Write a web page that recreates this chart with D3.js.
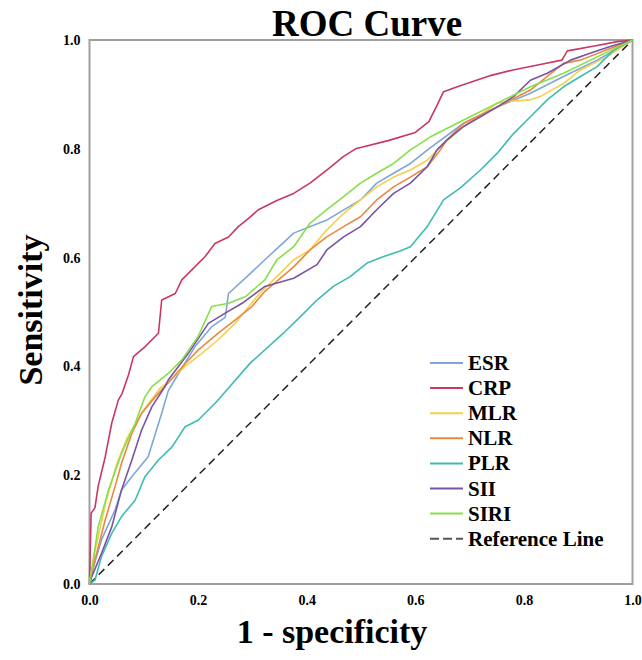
<!DOCTYPE html>
<html>
<head>
<meta charset="utf-8">
<script src="https://cdn.jsdelivr.net/npm/d3@7"></script>
<style>
  body { margin: 0; background: #fff; }
  text { font-family: "Liberation Serif", "Times New Roman", serif; }
</style>
</head>
<body>
<svg width="642" height="660"></svg>
<script>
// ROC points, [1 - specificity, sensitivity]
var esr = [[0,0],[0.004,0.02],[0.022,0.081],[0.047,0.136],[0.059,0.173],[0.08,0.2],[0.108,0.234],[0.133,0.314],[0.145,0.355],[0.16,0.38],[0.194,0.436],[0.225,0.473],[0.25,0.49],[0.256,0.534],[0.29,0.565],[0.323,0.596],[0.376,0.645],[0.437,0.669],[0.499,0.706],[0.529,0.737],[0.56,0.755],[0.591,0.773],[0.628,0.802],[0.689,0.847],[0.751,0.877],[0.812,0.902],[0.873,0.933],[0.935,0.963],[1,1]];
var crp = [[0,0],[0.003,0.13],[0.01,0.14],[0.016,0.18],[0.029,0.234],[0.041,0.296],[0.053,0.338],[0.06,0.35],[0.072,0.385],[0.081,0.418],[0.102,0.436],[0.115,0.449],[0.127,0.461],[0.133,0.522],[0.158,0.534],[0.17,0.559],[0.188,0.577],[0.213,0.602],[0.231,0.626],[0.256,0.638],[0.274,0.657],[0.293,0.672],[0.311,0.688],[0.345,0.705],[0.376,0.718],[0.406,0.737],[0.437,0.761],[0.468,0.786],[0.49,0.8],[0.55,0.815],[0.6,0.83],[0.625,0.85],[0.64,0.88],[0.652,0.905],[0.68,0.915],[0.71,0.925],[0.74,0.935],[0.78,0.945],[0.83,0.955],[0.87,0.963],[0.88,0.98],[0.935,0.99],[0.972,0.997],[1,1]];
var mlr = [[0,0],[0.01,0.06],[0.03,0.15],[0.05,0.22],[0.07,0.27],[0.1,0.32],[0.13,0.36],[0.15,0.375],[0.176,0.4],[0.207,0.424],[0.237,0.449],[0.268,0.479],[0.314,0.535],[0.351,0.571],[0.376,0.596],[0.406,0.614],[0.437,0.651],[0.468,0.681],[0.499,0.706],[0.529,0.73],[0.56,0.748],[0.591,0.761],[0.622,0.779],[0.646,0.804],[0.689,0.841],[0.751,0.884],[0.78,0.888],[0.812,0.89],[0.83,0.896],[0.873,0.92],[0.904,0.945],[0.953,0.969],[1,1]];
var nlr = [[0,0],[0.01,0.044],[0.029,0.118],[0.047,0.179],[0.059,0.222],[0.078,0.277],[0.096,0.314],[0.121,0.344],[0.145,0.37],[0.176,0.405],[0.2,0.43],[0.237,0.461],[0.268,0.485],[0.299,0.51],[0.323,0.538],[0.376,0.583],[0.406,0.614],[0.437,0.638],[0.468,0.657],[0.499,0.675],[0.529,0.706],[0.56,0.73],[0.591,0.748],[0.622,0.767],[0.646,0.798],[0.658,0.816],[0.689,0.847],[0.751,0.877],[0.812,0.908],[0.843,0.933],[0.873,0.957],[0.904,0.963],[0.953,0.982],[1,1]];
var plr = [[0,0],[0.01,0.007],[0.022,0.05],[0.041,0.093],[0.059,0.124],[0.084,0.154],[0.102,0.197],[0.127,0.228],[0.152,0.252],[0.176,0.289],[0.2,0.301],[0.234,0.335],[0.296,0.406],[0.357,0.461],[0.388,0.491],[0.419,0.522],[0.449,0.547],[0.48,0.565],[0.511,0.59],[0.542,0.602],[0.572,0.612],[0.591,0.62],[0.622,0.657],[0.652,0.706],[0.683,0.728],[0.72,0.761],[0.751,0.792],[0.781,0.828],[0.812,0.859],[0.843,0.89],[0.873,0.914],[0.904,0.933],[0.935,0.951],[0.966,0.982],[1,1]];
var sii = [[0,0],[0.004,0.013],[0.022,0.056],[0.041,0.105],[0.059,0.173],[0.078,0.228],[0.096,0.283],[0.115,0.326],[0.139,0.363],[0.145,0.375],[0.182,0.424],[0.219,0.479],[0.25,0.498],[0.281,0.516],[0.323,0.547],[0.376,0.562],[0.419,0.587],[0.437,0.614],[0.468,0.638],[0.499,0.657],[0.529,0.688],[0.56,0.718],[0.591,0.737],[0.622,0.767],[0.64,0.798],[0.658,0.816],[0.689,0.841],[0.72,0.859],[0.751,0.877],[0.781,0.896],[0.812,0.926],[0.843,0.939],[0.886,0.963],[0.923,0.976],[0.959,0.988],[1,1]];
var siri = [[0,0],[0.004,0.026],[0.016,0.105],[0.035,0.173],[0.059,0.24],[0.084,0.295],[0.102,0.344],[0.115,0.363],[0.145,0.387],[0.17,0.412],[0.2,0.455],[0.225,0.51],[0.256,0.516],[0.287,0.528],[0.323,0.559],[0.345,0.596],[0.376,0.62],[0.406,0.663],[0.437,0.688],[0.468,0.712],[0.499,0.737],[0.529,0.755],[0.56,0.773],[0.591,0.798],[0.628,0.822],[0.689,0.853],[0.751,0.884],[0.812,0.914],[0.873,0.939],[0.935,0.969],[1,1]];
var refLine = [[0,0],[1,1]];

var names = ["ESR", "CRP", "MLR", "NLR", "PLR", "SII", "SIRI"];
var colors = ["#7ea6d6", "#c9385f", "#f6cf4c", "#e8893f", "#3dbdb1", "#7a52a6", "#86e04a"];
var ticks = [0, 0.2, 0.4, 0.6, 0.8, 1.0];

var series = [esr, crp, mlr, nlr, plr, sii, siri];

var svg = d3.select("svg"),
    plotLeft = 89.5, plotRight = 632.5, plotTop = 40, plotBottom = 584;

var x = d3.scaleLinear().domain([0, 1]).range([plotLeft, plotRight]);
var y = d3.scaleLinear().domain([0, 1]).range([plotBottom, plotTop]);

var line = d3.line()
  .x(function(d) { return x(d[0]); })
  .y(function(d) { return y(d[1]); });

// frame
svg.append("rect")
  .attr("x", plotLeft).attr("y", plotTop)
  .attr("width", plotRight - plotLeft).attr("height", plotBottom - plotTop)
  .attr("fill", "none").attr("stroke", "#a0a0a0").attr("stroke-width", 2);

// axes (labels only, no tick marks)
var xAxis = svg.append("g")
  .attr("transform", "translate(0," + (plotBottom + 8) + ")")
  .call(d3.axisBottom(x).tickValues(ticks).tickFormat(d3.format(".1f")).tickSize(0));
var yAxis = svg.append("g")
  .attr("transform", "translate(" + (plotLeft - 6) + ",0)")
  .call(d3.axisLeft(y).tickValues(ticks).tickFormat(d3.format(".1f")).tickSize(0));
[xAxis, yAxis].forEach(function(a) {
  a.attr("font-family", "Liberation Serif, serif").attr("font-size", 14);
  a.select(".domain").remove();
  a.selectAll("text")
    .attr("font-weight", "bold")
    .attr("fill", "#000");
});

// reference line
svg.append("path")
  .datum(refLine)
  .attr("d", line)
  .attr("fill", "none")
  .attr("stroke", "#222")
  .attr("stroke-width", 1.5)
  .attr("stroke-dasharray", "8,5");

svg.append("g").selectAll("path")
  .data(series)
  .enter().append("path")
  .attr("d", line)
  .attr("fill", "none")
  .attr("stroke", function(d, i) { return colors[i]; })
  .attr("stroke-width", 1.6)
  .attr("stroke-linejoin", "round");

// title and axis titles
svg.append("text")
  .attr("x", 367).attr("y", 36)
  .attr("text-anchor", "middle")
  .attr("font-weight", "bold")
  .attr("font-size", "37px")
  .text("ROC Curve");

svg.append("text")
  .attr("x", 332).attr("y", 643)
  .attr("text-anchor", "middle")
  .attr("font-weight", "bold")
  .attr("font-size", "34px")
  .text("1 - specificity");

svg.append("text")
  .attr("transform", "translate(42,310) rotate(-90)")
  .attr("text-anchor", "middle")
  .attr("font-weight", "bold")
  .attr("font-size", "34px")
  .text("Sensitivity");

// legend
var legend = svg.append("g").attr("transform", "translate(430,363)");
var items = names.map(function(n, i) { return { name: n, color: colors[i], dash: null }; });
items.push({ name: "Reference Line", color: "#555", dash: "9,4" });

var row = legend.selectAll("g")
  .data(items)
  .enter().append("g")
  .attr("transform", function(d, i) { return "translate(0," + i * 25.1 + ")"; });

row.append("line")
  .attr("x1", 0).attr("x2", 33)
  .attr("stroke", function(d) { return d.color; })
  .attr("stroke-width", 2)
  .attr("stroke-dasharray", function(d) { return d.dash; });

row.append("text")
  .attr("x", 38).attr("y", 7)
  .attr("font-weight", "bold")
  .attr("font-size", "21px")
  .text(function(d) { return d.name; });
</script>
</body>
</html>
